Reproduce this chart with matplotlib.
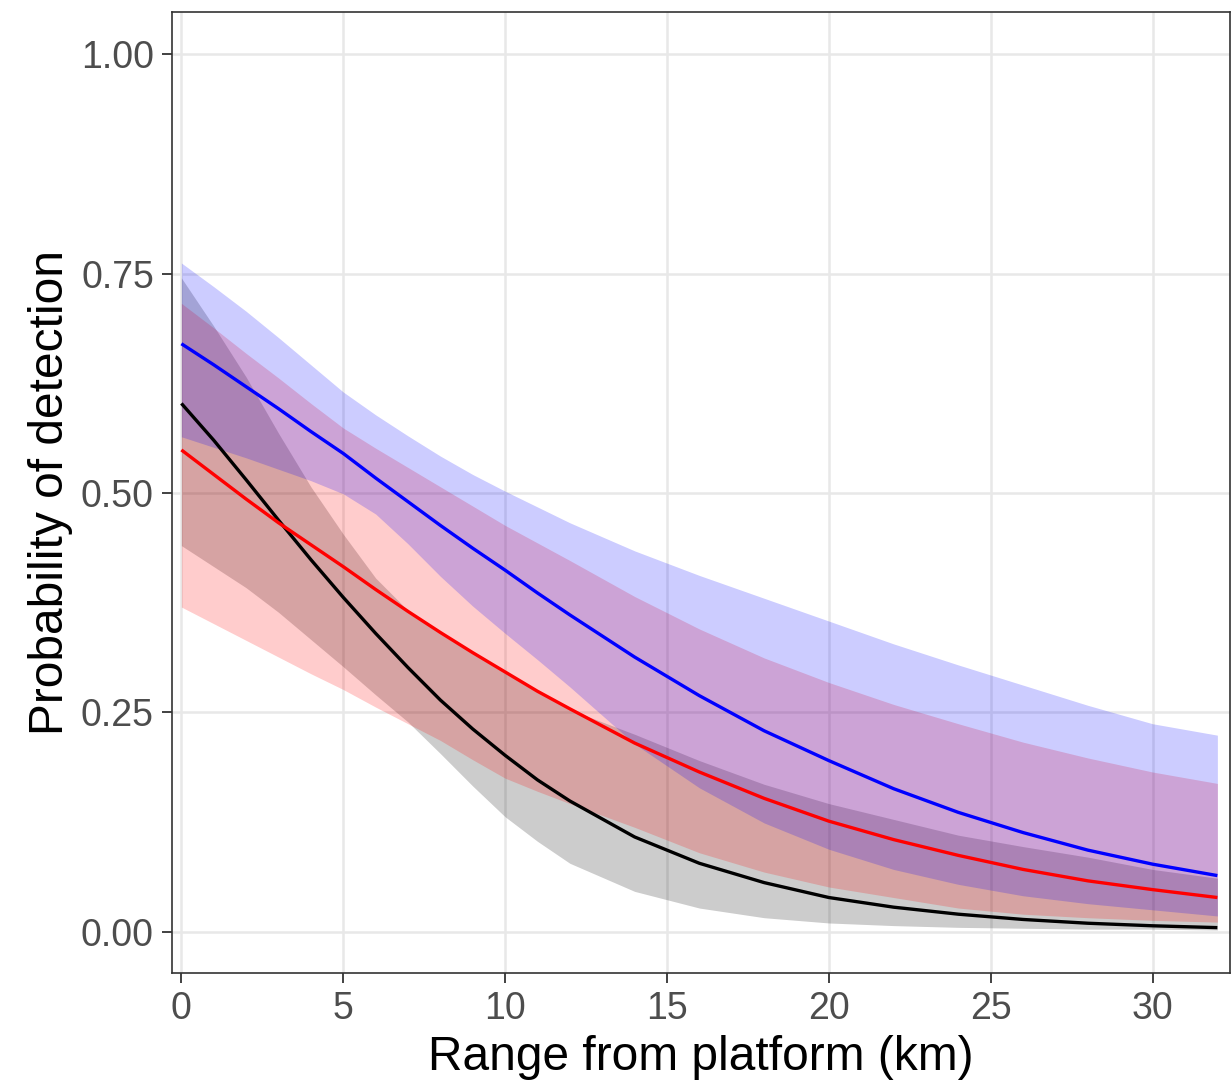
import matplotlib
matplotlib.use("Agg")
import matplotlib.pyplot as plt

plt.rcParams["font.family"] = ["Liberation Sans", "DejaVu Sans"]

# Distance from the platform (km)
range_km = [0, 1, 2, 3, 4, 5, 6, 7, 8, 9, 10, 11, 12,
            14, 16, 18, 20, 22, 24, 26, 28, 30, 32]

# Fitted detection probability with confidence limits, one set per group
blue_fit = [0.670, 0.646, 0.621, 0.596, 0.570, 0.545, 0.517, 0.490, 0.463, 0.437, 0.412, 0.386, 0.361,
            0.313, 0.269, 0.229, 0.195, 0.163, 0.136, 0.113, 0.093, 0.077, 0.064]
blue_lo = [0.564, 0.552, 0.540, 0.527, 0.514, 0.499, 0.476, 0.442, 0.405, 0.371, 0.340, 0.310, 0.279,
           0.214, 0.164, 0.124, 0.094, 0.071, 0.054, 0.041, 0.032, 0.025, 0.018]
blue_hi = [0.762, 0.735, 0.707, 0.677, 0.646, 0.615, 0.589, 0.565, 0.542, 0.521, 0.502, 0.484, 0.466,
           0.434, 0.406, 0.380, 0.354, 0.328, 0.304, 0.281, 0.258, 0.237, 0.224]

red_fit = [0.549, 0.521, 0.493, 0.466, 0.441, 0.416, 0.390, 0.365, 0.341, 0.318, 0.296, 0.274, 0.254,
           0.215, 0.182, 0.152, 0.126, 0.105, 0.087, 0.071, 0.058, 0.048, 0.039]
red_lo = [0.370, 0.351, 0.332, 0.313, 0.294, 0.276, 0.256, 0.237, 0.218, 0.196, 0.175, 0.160, 0.146,
          0.119, 0.090, 0.068, 0.051, 0.039, 0.027, 0.020, 0.016, 0.013, 0.011]
red_hi = [0.716, 0.688, 0.659, 0.631, 0.602, 0.574, 0.551, 0.529, 0.507, 0.485, 0.463, 0.443, 0.423,
          0.382, 0.345, 0.312, 0.284, 0.259, 0.237, 0.216, 0.198, 0.182, 0.169]

black_fit = [0.602, 0.560, 0.515, 0.469, 0.424, 0.381, 0.340, 0.301, 0.264, 0.231, 0.201, 0.173, 0.149,
             0.108, 0.078, 0.056, 0.039, 0.028, 0.020, 0.014, 0.0097, 0.0068, 0.0047]
black_lo = [0.440, 0.416, 0.392, 0.364, 0.333, 0.302, 0.270, 0.239, 0.203, 0.166, 0.131, 0.103, 0.078,
            0.046, 0.027, 0.016, 0.010, 0.007, 0.005, 0.004, 0.003, 0.003, 0.002]
black_hi = [0.745, 0.690, 0.632, 0.568, 0.507, 0.453, 0.403, 0.366, 0.340, 0.317, 0.295, 0.273, 0.253,
            0.225, 0.195, 0.168, 0.146, 0.128, 0.110, 0.097, 0.085, 0.071, 0.061]

x_ticks = [0, 5, 10, 15, 20, 25, 30]
y_ticks = [0.0, 0.25, 0.50, 0.75, 1.00]
y_tick_labels = ["0.00", "0.25", "0.50", "0.75", "1.00"]

W, H, DPI = 1232, 1083, 100
fig = plt.figure(figsize=(W / DPI, H / DPI), dpi=DPI)
ax = fig.add_axes([172 / W, 1 - 973 / H, (1230 - 172) / W, (973 - 12) / H])

# Confidence ribbons
ax.fill_between(range_km, black_lo, black_hi, color="black", alpha=0.2, linewidth=0)
ax.fill_between(range_km, red_lo, red_hi, color="red", alpha=0.2, linewidth=0)
ax.fill_between(range_km, blue_lo, blue_hi, color="blue", alpha=0.2, linewidth=0)

# Fitted curves
for series, colour in ((black_fit, "black"), (red_fit, "red"), (blue_fit, "blue")):
    ax.plot(range_km, series, color=colour, linewidth=2.4,
            solid_capstyle="butt", solid_joinstyle="round")

ax.set_xlim(-0.29, 32.39)
ax.set_ylim(-0.047, 1.048)
ax.set_xticks(x_ticks)
ax.set_yticks(y_ticks)
ax.set_yticklabels(y_tick_labels)

ax.grid(True, color="#E8E8E8", linewidth=1.8, zorder=0)
ax.set_axisbelow(True)
for sp in ax.spines.values():
    sp.set_color("#333333")
    sp.set_linewidth(1.2)
ax.tick_params(axis="both", length=7, width=1.3, color="#333333",
               labelcolor="#4D4D4D", labelsize=27, pad=6)

ax.set_xlabel("Range from platform (km)", fontsize=34.5, color="black", labelpad=6)
ax.set_ylabel("Probability of detection", fontsize=34.5, color="black", labelpad=6)

fig.savefig("out.png", dpi=DPI)
